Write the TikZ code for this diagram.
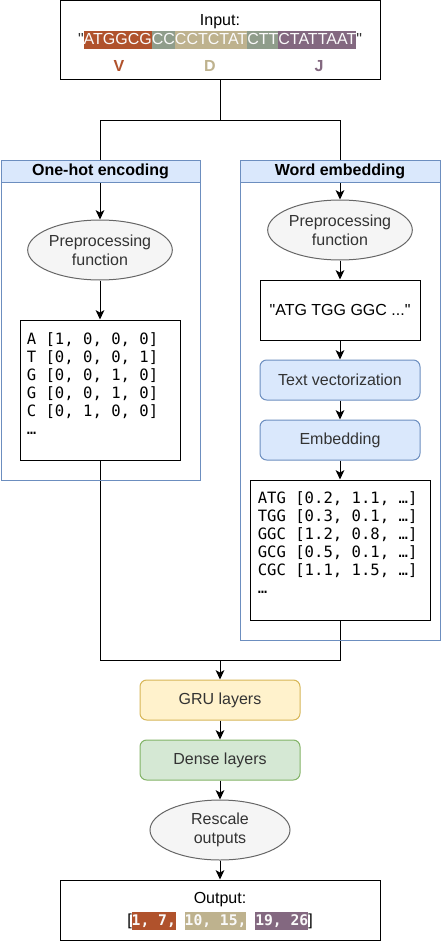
\documentclass[tikz,border=0pt]{standalone}
\usepackage{fontspec}
\setmainfont{Liberation Sans}[Ligatures=TeXOff]
\setmonofont{DejaVu Sans Mono}
\usepackage{tikz}
\usetikzlibrary{arrows.meta,shapes.geometric}

% highlighted piece of sequence
\newcommand{\seg}[2]{{\setlength{\fboxsep}{0pt}\colorbox{#1}{\rule[-3.5pt]{0pt}{13.5pt}\textcolor{segText}{#2}}}}

\begin{document}
\begin{tikzpicture}[x=0.75pt, y=-0.75pt,
  every node/.style={font=\fontsize{12}{14.4}\selectfont},
  wire/.style={line width=0.75pt},
  arr/.style={wire, -{Stealth[length=7pt,width=6.5pt,inset=1.8pt]}},
  frame/.style={draw, line width=0.75pt, minimum width=240pt, inner sep=0pt},
  proc/.style={ellipse, draw=procLine, fill=procFill, text=procText, line width=0.75pt,
    minimum width=105pt, minimum height=45pt, inner sep=0pt, align=center},
  plain/.style={draw, line width=0.75pt, fill=white, inner sep=0pt},
  layer/.style={rounded corners=5pt, line width=0.75pt, minimum width=120pt,
    minimum height=30pt, inner sep=0pt, text=procText},
  group/.style={draw=grpLine, line width=0.75pt, inner sep=0pt},
  head/.style={draw=grpLine, fill=grpFill, line width=0.75pt, minimum height=16.5pt,
    inner sep=0pt, font=\fontsize{12}{14.4}\selectfont\bfseries},
  mono/.style={font=\fontsize{11.7}{13.5}\selectfont\ttfamily, align=left,
    anchor=north west, inner sep=0pt},
  gene/.style={font=\fontsize{12}{14.4}\selectfont\bfseries}
]

% Colori
\definecolor{colV}{HTML}{B0522C}
\definecolor{colN}{HTML}{8F9D8B}
\definecolor{colD}{HTML}{BEB28E}
\definecolor{colJ}{HTML}{836880}
\definecolor{segText}{HTML}{FAFAFA}
\definecolor{quoteGray}{HTML}{333333}
\definecolor{procFill}{HTML}{F5F5F5}
\definecolor{procLine}{HTML}{666666}
\definecolor{procText}{HTML}{333333}
\definecolor{grpLine}{HTML}{6C8EBF}
\definecolor{grpFill}{HTML}{DAE8FC}
\definecolor{gruFill}{HTML}{FFF2CC}
\definecolor{gruLine}{HTML}{D6B656}
\definecolor{denseFill}{HTML}{D5E8D4}
\definecolor{denseLine}{HTML}{82B366}

\useasboundingbox (0,0) rectangle (442,942);

% Input
\node[frame, minimum height=59.25pt] (input) at (220,40.5) {};
\node (inlabel) at (220,22) {Input:};
\node[inner sep=0pt] (seq) at (220,40.5) {\textcolor{quoteGray}{"}\seg{colV}{ATGGCG}\seg{colN}{CC}\seg{colD}{CCTCTAT}\seg{colN}{CTT}\seg{colJ}{CTATTAAT}\textcolor{quoteGray}{"}};
\node[gene, text=colV] (genV) at (119,66) {V};
\node[gene, text=colD] (genD) at (210,66) {D};
\node[gene, text=colJ] (genJ) at (319,66) {J};

% One-hot encoding
\node[proc] (pre1) at (100,250) {Preprocessing\\function};
\node[plain, minimum width=120pt, minimum height=105pt] (onehot) at (100,390) {};
\node[mono] (onehottxt) at (26.5,332) {A [1, 0, 0, 0]\\T [0, 0, 0, 1]\\G [0, 0, 1, 0]\\G [0, 0, 1, 0]\\C [0, 1, 0, 0]\\…};

% Word embedding
\node[proc] (pre2) at (340,230) {Preprocessing\\function};
\node[plain, minimum width=120pt, minimum height=45pt] (words) at (340,310) {"ATG TGG GGC ..."};
\node[layer, draw=grpLine, fill=grpFill] (vect) at (340,380) {Text vectorization};
\node[layer, draw=grpLine, fill=grpFill] (embed) at (340,440) {Embedding};
\node[plain, minimum width=135pt, minimum height=105pt] (wordvec) at (340,550) {};
\node[mono] (wordvectxt) at (257.5,491) {ATG [0.2, 1.1, …]\\TGG [0.3, 0.1, …]\\GGC [1.2, 0.8, …]\\GCG [0.5, 0.1, …]\\CGC [1.1, 1.5, …]\\…};

% Rete
\node[layer, draw=gruLine, fill=gruFill] (gru) at (220,700) {GRU layers};
\node[layer, draw=denseLine, fill=denseFill] (dense) at (220,760) {Dense layers};
\node[proc] (rescale) at (220,830) {Rescale\\outputs};

% Output
\node[frame, minimum height=45pt] (output) at (220,910) {};
\node (outlabel) at (220,900) {Output:};
\node[inner sep=0pt] (outvals) at (220,921) {[{\fontsize{11}{13}\selectfont\ttfamily\bfseries\seg{colV}{1, 7,} \seg{colD}{10, 15,} \seg{colJ}{19, 26}}]};

% Collegamenti
\coordinate (split) at (220,120);
\coordinate (merge) at (220,660);
\draw[wire] (input) -- (split);
\draw[arr] (split) -| (pre1);
\draw[arr] (split) -| (pre2);
\draw[arr] (pre1) -- (onehot);
\draw[arr] (pre2) -- (words);
\draw[arr] (words) -- (vect);
\draw[arr] (vect) -- (embed);
\draw[arr] (embed) -- (wordvec);
\draw[wire] (onehot) |- (merge);
\draw[wire] (wordvec) |- (merge);
\draw[arr] (merge) -- (gru);
\draw[arr] (gru) -- (dense);
\draw[arr] (dense) -- (rescale);
\draw[arr] (rescale) -- (output);

% Gruppi
\node[group, minimum width=149.25pt, minimum height=240pt] (ohegrp) at (100.5,320) {};
\node[head, minimum width=149.25pt] (ohehead) at (100.5,171) {One-hot encoding};
\node[group, minimum width=150pt, minimum height=360pt] (wemgrp) at (340,400) {};
\node[head, minimum width=150pt] (wemhead) at (340,171) {Word embedding};

\end{tikzpicture}
\end{document}
